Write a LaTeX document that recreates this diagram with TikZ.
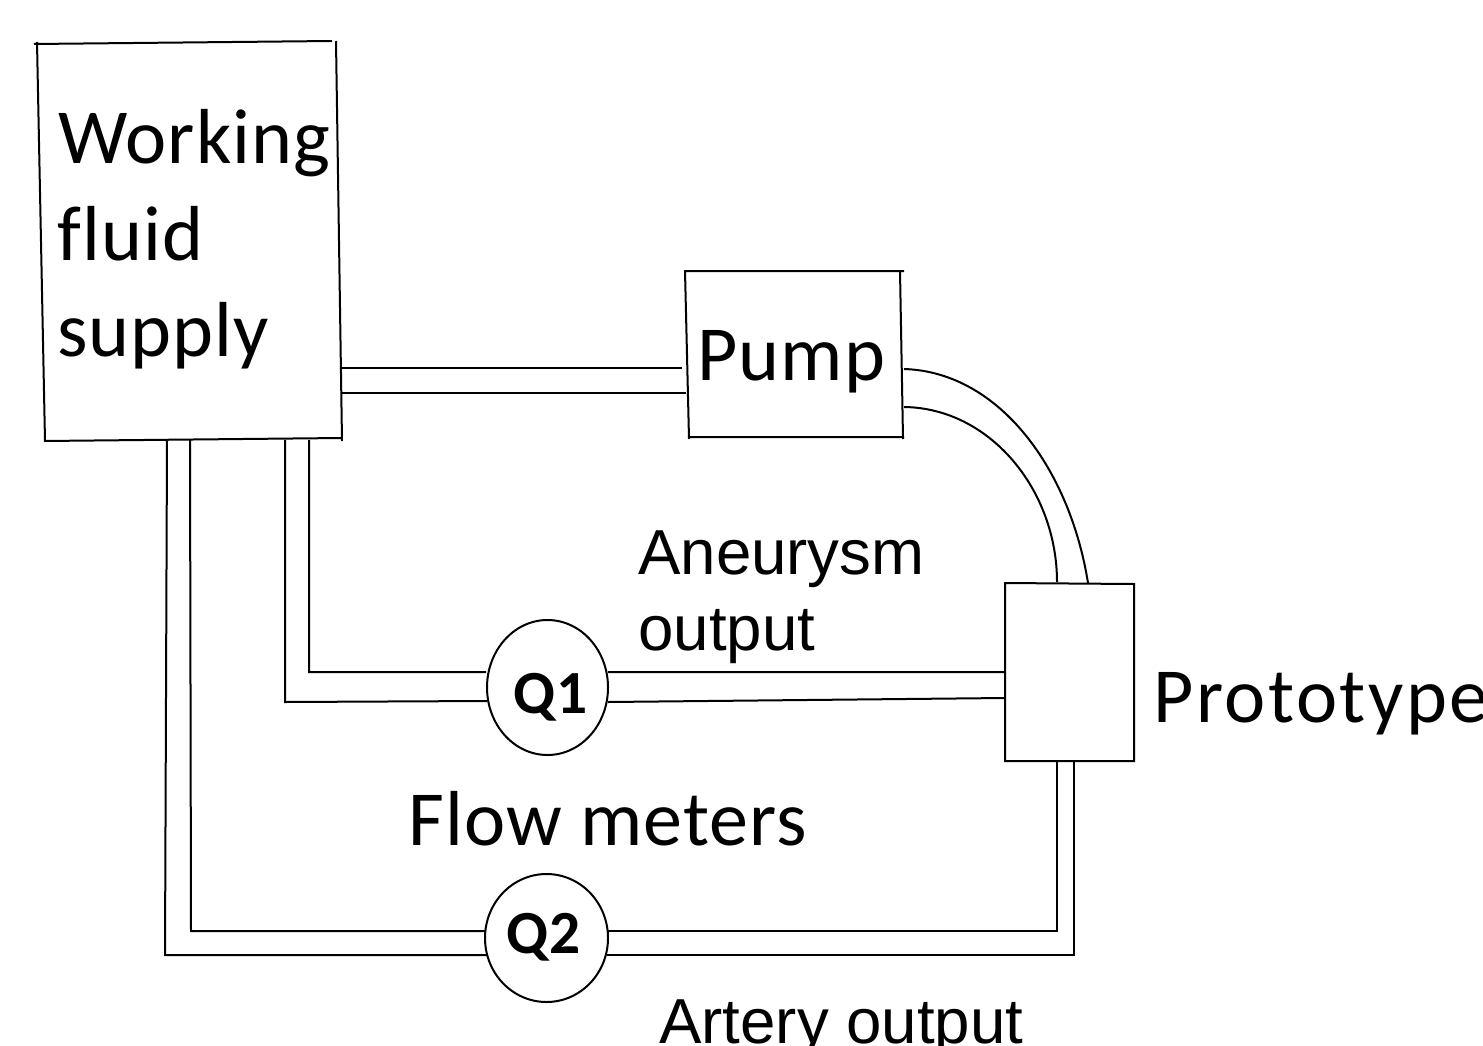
\documentclass[tikz,border=0pt]{standalone}
\usepackage{fontspec}
\setmainfont[LetterSpace=1.4,Ligatures=NoCommon]{Carlito}
\newfontfamily\protof[LetterSpace=3.2,Ligatures=NoCommon]{Carlito}
\newfontfamily\arialf{Liberation Sans}
\begin{document}
\begin{tikzpicture}[x=0.75pt,y=-0.75pt,
  wire/.style={line width=1.5pt,black},
  cali/.style={font=\fontsize{58.5pt}{70pt}\selectfont,inner sep=0pt,anchor=base west},
  proto/.style={font=\protof\fontsize{58.5pt}{70pt}\selectfont,inner sep=0pt,anchor=base west},
  ari/.style={font=\arialf\fontsize{47.7pt}{57pt}\selectfont,inner sep=0pt,anchor=base west},
  qlab/.style={font=\bfseries\fontsize{46pt}{50pt}\selectfont,inner sep=0pt,anchor=base}]
\useasboundingbox (0,0) rectangle (1483,1045);
\clip (0,0) rectangle (1483,1045);
% Working fluid supply
\coordinate (wtl) at (34,44); \coordinate (wtr) at (332,41);
\coordinate (wl1) at (37,42); \coordinate (wl2) at (45,441);
\coordinate (wr1) at (336,41); \coordinate (wr2) at (342,441);
\coordinate (wbl) at (44,441); \coordinate (wbr) at (342,438);
\draw[wire] (wtl)--(wtr) (wl1)--(wl2) (wr1)--(wr2) (wbl)--(wbr);
% Pump
\coordinate (ptl) at (684,271); \coordinate (ptr) at (904,271);
\coordinate (pbl) at (688,437); \coordinate (pbr) at (904,437);
\coordinate (pl1) at (685,271); \coordinate (pl2) at (689,439);
\coordinate (pr1) at (900,271); \coordinate (pr2) at (903,439);
\draw[wire] (ptl)--(ptr) (pbl)--(pbr) (pl1)--(pl2) (pr1)--(pr2);
% Prototype
\coordinate (a) at (1005,583); \coordinate (b) at (1134,584);
\coordinate (c) at (1134,761); \coordinate (d) at (1005,761);
\draw[wire] (a)--(b)--(c)--(d)--cycle;
% meters
\draw[wire] (547.5,687.5) ellipse (60.5 and 67.5);
\draw[wire] (546.5,938) ellipse (61.5 and 64);
\coordinate (q1l) at (486,672); \coordinate (q1lb) at (487,701);
\coordinate (q1r) at (608,672); \coordinate (q1rb) at (608,702);
\coordinate (q2l) at (485,931); \coordinate (q2lb) at (487,955);
\coordinate (q2r) at (608,931); \coordinate (q2rb) at (607,955);
% supply to pump
\coordinate (s1) at (341,368); \coordinate (s1e) at (682,368);
\coordinate (s2) at (341,393); \coordinate (s2e) at (686,393);
\draw[wire] (s1)--(s1e) (s2)--(s2e);
% pump to prototype
\coordinate (c1) at (904,369); \coordinate (c1e) at (1088,583);
\coordinate (c2) at (904,407); \coordinate (c2e) at (1057,582);
\draw[wire] (c1) .. controls (1000,372) and (1070,470) .. (c1e);
\draw[wire] (c2) .. controls (990,408) and (1057,490) .. (c2e);
% aneurysm line
\coordinate (u1) at (309,440); \coordinate (u1c) at (309,672);
\coordinate (u2) at (285,440); \coordinate (u2c) at (285,702);
\coordinate (p1) at (1005,672); \coordinate (p2) at (1005,698);
\draw[wire] (u1)--(u1c)--(q1l) (u2)--(u2c)--(q1lb);
\draw[wire] (q1r)--(p1) (q1rb)--(p2);
% artery line
\coordinate (v1) at (190,440); \coordinate (v1c) at (191,931);
\coordinate (v2) at (167,440); \coordinate (v2c) at (165,955);
\coordinate (r1) at (1057,761); \coordinate (r1c) at (1057,931);
\coordinate (r2) at (1074,761); \coordinate (r2c) at (1074,955);
\draw[wire] (v1)--(v1c)--(q2l) (v2)--(v2c)--(q2lb);
\draw[wire] (r1)--(r1c)--(q2r) (r2)--(r2c)--(q2rb);
% text
\node[cali] (t1) at (58,163) {Working};
\node[cali] (t2) at (57,260) {fluid};
\node[cali] (t3) at (57,356) {supply};
\node[cali] (t4) at (697,380) {Pump};
\node[proto] (t5) at (1153,722) {Prototype};
\node[cali] (t6) at (408,845) {Flow meters};
\node[ari] (t7) at (638,574) {Aneurysm};
\node[ari] (t8) at (638,650) {output};
\node[ari] (t9) at (659,1043) {Artery output};
\node[qlab] (q1) at (551,713) {Q1};
\node[qlab] (q2) at (544,953) {Q2};
\end{tikzpicture}
\end{document}
